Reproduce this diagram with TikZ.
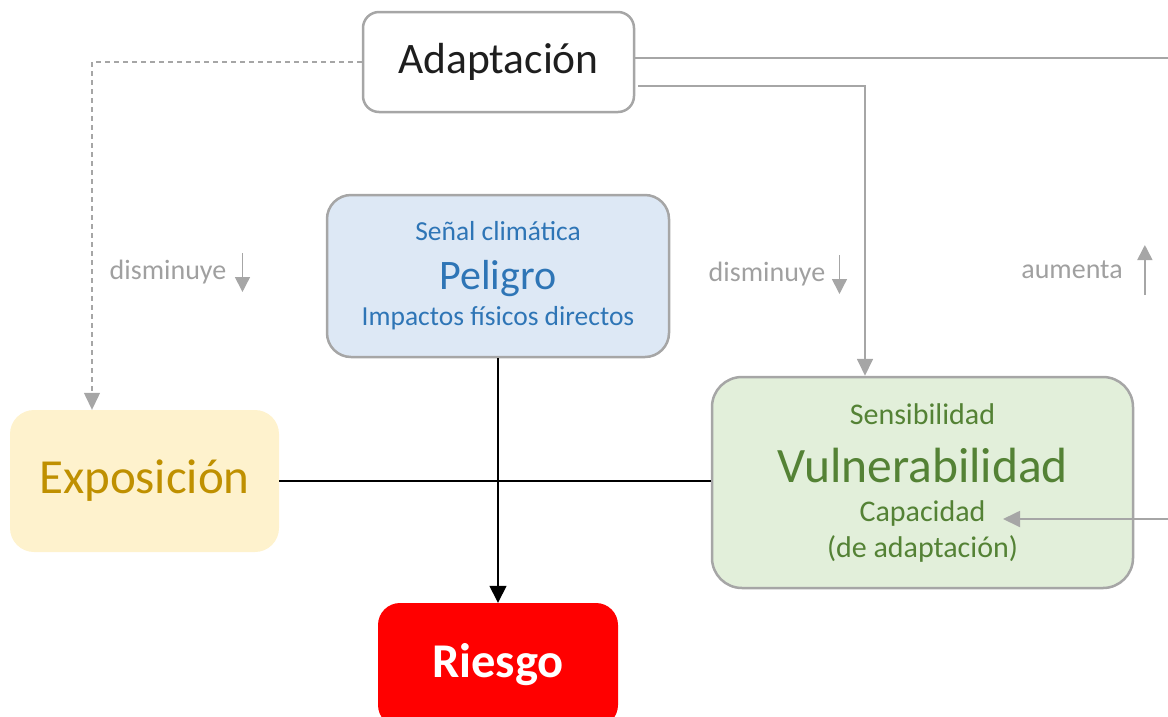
\documentclass[tikz,border=0pt]{standalone}
\usepackage{fontspec}
\setmainfont{Carlito}
\usetikzlibrary{positioning,arrows.meta}

\definecolor{edgegray}{HTML}{A6A6A6}
\definecolor{textgray}{HTML}{A0A0A0}
\definecolor{adapttext}{HTML}{1E1E1E}
\definecolor{peligroblue}{HTML}{2E75B6}
\definecolor{peligrofill}{HTML}{DDE8F5}
\definecolor{expofill}{HTML}{FEF2CD}
\definecolor{expotext}{HTML}{BF9000}
\definecolor{vulnfill}{HTML}{E2EFDA}
\definecolor{vulntext}{HTML}{548235}
\definecolor{riesgored}{HTML}{FF0000}

\tikzset{
  box/.style={rounded corners=24pt, align=center, inner sep=0pt},
  graybox/.style={box, draw=edgegray, line width=2.5pt},
  note/.style={text=textgray, inner sep=0pt, font=\fontsize{28}{30}\selectfont},
  grayline/.style={draw=edgegray, line width=1.8pt},
  grayarrow/.style={grayline, -{Triangle[length=17pt,width=16pt]}},
  notearrow/.style={grayline, line width=1.5pt, -{Triangle[length=15pt,width=15pt]}},
  blackline/.style={draw=black, line width=1.4pt}
}

\begin{document}
\begin{tikzpicture}[x=1pt,y=-1pt]
\useasboundingbox (0,0) rectangle (1168,716);
\clip (0,0) rectangle (1168,716);

% boxes
\node[graybox, fill=white, text=adapttext, minimum width=271pt, minimum height=100pt,
      rounded corners=16pt, font=\fontsize{43.5}{46}\selectfont]
      (adapt) at (498.5,62) {Adaptación};
\node[graybox, fill=peligrofill, text=peligroblue, minimum width=342pt, minimum height=162pt,
      font=\fontsize{27.5}{36}\selectfont]
      (peligro) at (498,276)
      {Señal climática\\[13pt]
       {\fontsize{42}{36}\selectfont Peligro}\\
       Impactos físicos directos};
\node[box, fill=expofill, text=expotext, minimum width=269pt, minimum height=142pt,
      font=\fontsize{49}{50}\selectfont]
      (expo) at (144.5,481) {Exposición};
\node[graybox, fill=vulnfill, text=vulntext, minimum width=421pt, minimum height=211pt,
      rounded corners=30pt, font=\fontsize{30}{36}\selectfont]
      (vuln) at (922.5,482.5)
      {Sensibilidad\\[22pt]
       {\fontsize{49.5}{36}\selectfont Vulnerabilidad}\\[3pt]
       Capacidad\\
       (de adaptación)};
\node[box, fill=riesgored, text=white, minimum width=240pt, minimum height=124pt,
      rounded corners=22pt, font=\fontsize{48.5}{50}\selectfont\bfseries]
      (riesgo) at (498,665) {Riesgo};

% labels
\node[note] (dism1) at (168,272) {disminuye};
\node[note] (dism2) at (767,274) {disminuye};
\node[note] (aumenta) at (1072,270) {aumenta};
\draw[notearrow] ([xshift=16pt,yshift=19pt]dism1.east) -- ([xshift=16pt,yshift=-20pt]dism1.east);
\draw[notearrow] ([xshift=14pt,yshift=19pt]dism2.east) -- ([xshift=14pt,yshift=-20pt]dism2.east);
\draw[notearrow] ([xshift=22pt,yshift=-25pt]aumenta.east) -- ([xshift=22pt,yshift=25pt]aumenta.east);

% connectors
\coordinate (outR) at (1168,58);
\coordinate (inR) at (1168,519);
\coordinate (capa) at (1003,519);
\draw[grayline, dashed, dash pattern=on 5pt off 4pt, line width=1.2pt,
      -{Triangle[length=17pt,width=16pt]}]
      (adapt.west) -| ([xshift=-52.5pt]expo.north);
\draw[grayline] ([yshift=4pt]adapt.east) -- (outR);
\draw[grayarrow] ([xshift=3pt,yshift=-24pt]adapt.east) -| ([xshift=-57.5pt]vuln.north);
\draw[grayarrow] (inR) -- (capa);
\draw[blackline] (expo.east) -- (expo.east -| vuln.west);
\draw[blackline, -{Triangle[length=17pt,width=17pt]}] (peligro.south) -- (riesgo.north);
\end{tikzpicture}
\end{document}
